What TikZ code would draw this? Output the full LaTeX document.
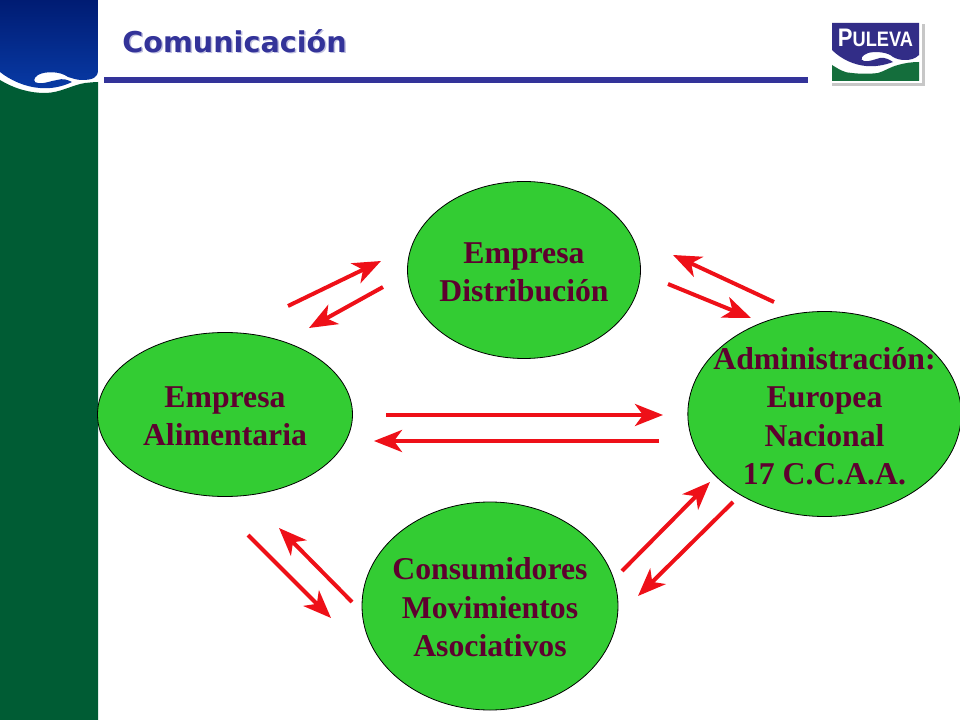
\documentclass[tikz,border=0pt]{standalone}
\usepackage{fontspec}
\setmainfont{Liberation Serif}
\newfontfamily\headfont{DejaVu Sans}
\newfontfamily\logofont{Liberation Sans}
\usetikzlibrary{arrows.meta,shapes.geometric}
\definecolor{sidegreen}{RGB}{0,92,52}
\definecolor{topblue}{RGB}{0,28,115}
\definecolor{lowblue}{RGB}{8,58,165}
\definecolor{rulecol}{RGB}{51,51,153}
\definecolor{ovalgreen}{RGB}{51,204,51}
\definecolor{labelcol}{RGB}{94,0,47}
\definecolor{arrowred}{RGB}{238,16,24}
\definecolor{logoblue}{RGB}{50,45,135}
\definecolor{logogreen}{RGB}{20,110,60}
\tikzset{
  x=0.75pt,y=-0.75pt,
  oval/.style={ellipse,draw=black,line width=0.6pt,fill=ovalgreen,inner sep=0pt},
  ovaltext/.style={inner sep=0pt,align=center,text=labelcol,
    font=\fontsize{23.8}{28.9}\selectfont\bfseries},
  flow/.style={draw=arrowred,line width=3pt,
    -{Stealth[length=21pt,width=16.5pt,inset=6pt,fill=arrowred]}},
}
\begin{document}
\begin{tikzpicture}
\useasboundingbox (0,0) rectangle (960,720);
% side band
\fill[sidegreen] (0,80) .. controls (15,89) and (30,93) .. (45,93)
  .. controls (60,93) and (72,85) .. (85,83) .. controls (90,82.5) and (95,82) .. (98,82)
  -- (98,720) -- (0,720) -- cycle;
\shade[top color=topblue,bottom color=lowblue]
  (0,0) -- (98,0) -- (98,70) .. controls (98,78) and (92,80) .. (82,80)
  .. controls (76,80) and (72,78) .. (68,77) .. controls (60,71) and (45,71) .. (38,75)
  .. controls (33,78) and (33,83) .. (38,83) .. controls (45,84) and (50,81) .. (57,80)
  .. controls (63,78) and (68,80) .. (72,82) .. controls (62,87) and (50,89) .. (40,88)
  .. controls (25,87) and (10,80) .. (0,72) -- cycle;
% title
\node[anchor=west,inner sep=0pt,text=rulecol!30,font=\headfont\fontsize{21.5}{26}\selectfont\bfseries] (titleshadow) at (123.5,42.5) {Comunicación};
\node[anchor=west,inner sep=0pt,text=rulecol,font=\headfont\fontsize{21.5}{26}\selectfont\bfseries] (title) at (122,41) {Comunicación};
\fill[rulecol] (104,77) rectangle (808,83);
% logo
\fill[black!22] (832,24) rectangle (925,86);
\fill[white] (829,20) rectangle (922,83);
\fill[logogreen] (832,65) .. controls (840,70) and (845,73) .. (852,73)
  .. controls (860,74) and (870,74) .. (878,73) .. controls (885,71) and (890,67) .. (898,65)
  .. controls (905,63) and (912,62) .. (919,62) -- (919,81) -- (832,81) -- cycle;
\fill[logoblue] (832,23) -- (919,23) -- (919,55) .. controls (915,59) and (910,60) .. (905,60)
  .. controls (900,60) and (897,59) .. (893,57) .. controls (888,52) and (875,51) .. (868,53)
  .. controls (862,55) and (859,60) .. (864,61) .. controls (870,62) and (875,59) .. (880,58)
  .. controls (885,57) and (890,60) .. (893,62) .. controls (885,65) and (875,67) .. (866,66)
  .. controls (855,65) and (842,60) .. (832,50) -- cycle;
\node[inner sep=0pt,anchor=base,text=white,font=\logofont\bfseries] (logo) at (875.5,46.5)
  {\scalebox{.87}[1]{\fontsize{19}{20}\selectfont P\fontsize{15.7}{20}\selectfont ULEVA}};
% ovals
\node[oval,minimum width=174.75pt,minimum height=132.75pt] (dist) at (524,270) {};
\node[oval,minimum width=191.25pt,minimum height=123pt] (alim) at (225,414.5) {};
\node[oval,minimum width=205pt,minimum height=153.75pt] (admin) at (824.5,414) {};
\node[oval,minimum width=192pt,minimum height=156pt] (cons) at (490,606) {};
\node[ovaltext] (disttext) at ([yshift=-1.6pt]dist.center) {Empresa\\Distribución};
\node[ovaltext] (alimtext) at ([yshift=-1.2pt]alim.center) {Empresa\\Alimentaria};
\node[ovaltext] (admintext) at ([yshift=-1.5pt]admin.center) {Administración:\\Europea\\Nacional\\17 C.C.A.A.};
\node[ovaltext] (constext) at ([yshift=-1.2pt]cons.center) {Consumidores\\Movimientos\\Asociativos};
% arrow ends
\coordinate (a1s) at (288,306); \coordinate (a1e) at (381,261);
\coordinate (a2s) at (383,287); \coordinate (a2e) at (309,328);
\coordinate (b1s) at (774,302); \coordinate (b1e) at (673,255);
\coordinate (b2s) at (668,284); \coordinate (b2e) at (751,318);
\coordinate (c1s) at (386,415); \coordinate (c1e) at (663,415);
\coordinate (c2s) at (659,441); \coordinate (c2e) at (374,441);
\coordinate (d1s) at (352,602); \coordinate (d1e) at (279,528);
\coordinate (d2s) at (248,535); \coordinate (d2e) at (331,618);
\coordinate (e1s) at (622,571); \coordinate (e1e) at (710,482);
\coordinate (e2s) at (733,502); \coordinate (e2e) at (638,596);
\foreach \n in {a1,a2,b1,b2,c1,c2,d1,d2,e1,e2}
  \draw[flow] (\n s) -- (\n e);
\end{tikzpicture}
\end{document}
